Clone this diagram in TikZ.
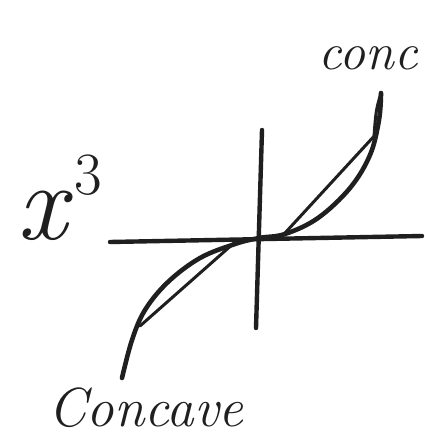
\documentclass[tikz,border=0pt]{standalone}
\begin{document}
\begin{tikzpicture}[x=1pt,y=-1pt,
  axis/.style={line width=4.4pt,line cap=round,black!88},
  curve/.style={line width=4.6pt,line cap=round,line join=round,black!88},
  chord/.style={line width=3pt,line cap=round,black!88},
  hand/.style={inner sep=0pt,black!88}]
\useasboundingbox (0,0) rectangle (424,441);
\fill[white] (0,0) rectangle (424,441);
% axes
\coordinate (xl) at (110,242);
\coordinate (xr) at (422,236);
\coordinate (yt) at (262,130);
\coordinate (yb) at (256,328);
\draw[axis] (xl) -- (xr);
\draw[axis] (yt) -- (yb);
% cubic curve
\draw[curve] plot[smooth,tension=0.6] coordinates {(122,378) (132,340) (145,310) (168,282) (200,258) (235,244) (259,238) (285,234) (318,218) (350,188) (370,155) (379,120) (381,93)};
% small double stroke at the top
\draw[chord] (381,93) .. controls (376,110) .. (374,136);
% chords
\coordinate (ua) at (285,233);
\coordinate (ub) at (377,133);
\coordinate (la) at (140,326);
\coordinate (lb) at (234,243);
\draw[chord] (ua) -- (ub);
\draw[chord] (la) -- (lb);
% labels
\node[hand,font=\fontsize{110}{110}\selectfont\itshape] (xlab) at (42,216) {x};
\node[hand,font=\fontsize{60}{60}\selectfont] (three) at (88,175) {3};
\node[hand,font=\fontsize{52}{52}\selectfont\itshape] (conc) at (368,58) {conc};
\node[hand,font=\fontsize{55}{55}\selectfont\itshape] (concave) at (146,408) {Concave};
\end{tikzpicture}
\end{document}
